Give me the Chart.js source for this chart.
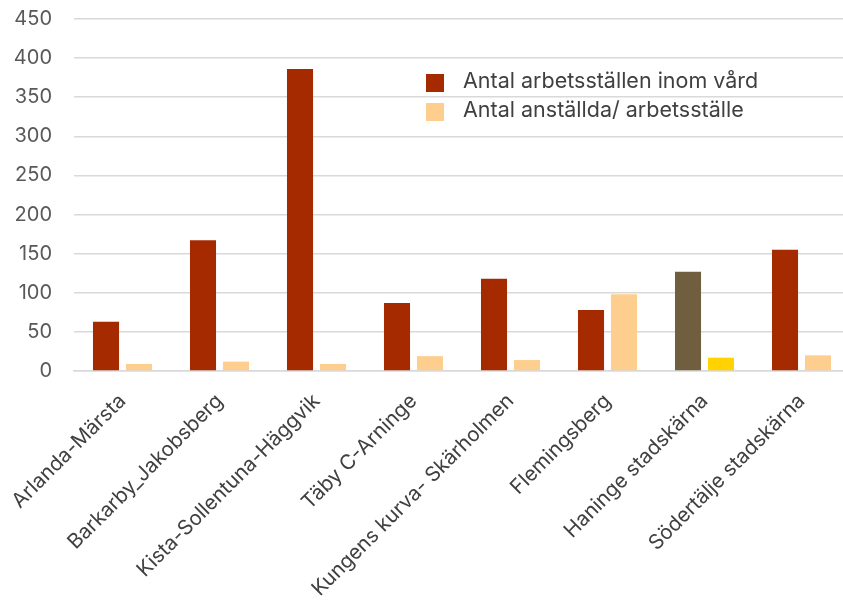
<!DOCTYPE html>
<html>
<head>
<meta charset="utf-8">
<script src="https://cdn.jsdelivr.net/npm/chart.js@4"></script>
<style>
  html, body { margin: 0; padding: 0; background: #fff; overflow: hidden; }
  #wrap { width: 850px; height: 604px; }
</style>
</head>
<body>
<div id="wrap"><canvas id="chart"></canvas></div>
<script>
// Data
const categories = [
  'Arlanda-Märsta',
  'Barkarby_Jakobsberg',
  'Kista-Sollentuna-Häggvik',
  'Täby C-Arninge',
  'Kungens kurva- Skärholmen',
  'Flemingsberg',
  'Haninge stadskärna',
  'Södertälje stadskärna'
];
const arbetsstallen = [63, 167, 386, 87, 118, 78, 127, 155];
const anstallda = [9, 12, 9, 19, 14, 98, 17, 20];
const seriesNames = ['Antal arbetsställen inom vård', 'Antal anställda/ arbetsställe'];
const yTicks = [0, 50, 100, 150, 200, 250, 300, 350, 400, 450];

// Colours (Haninge is highlighted in the original)
const red = '#A52A00';
const peach = '#FDCE8E';
const redColors = categories.map((c, i) => i === 6 ? '#705F3F' : red);
const peachColors = categories.map((c, i) => i === 6 ? '#FFD200' : peach);

const fontFamily = 'Inter, "Open Sans", sans-serif';

// Legend drawn inside the plot area, like the original
const insideLegend = {
  id: 'insideLegend',
  afterDraw(chart) {
    const ctx = chart.ctx;
    const colors = [red, peach];
    ctx.save();
    ctx.font = '21.5px ' + fontFamily;
    ctx.textBaseline = 'middle';
    seriesNames.forEach((name, i) => {
      const y = 83 + i * 29;
      ctx.fillStyle = colors[i];
      ctx.fillRect(426, y - 9, 18, 18);
      ctx.fillStyle = '#404040';
      ctx.fillText(name, 463, y - 1);
    });
    ctx.restore();
  }
};

new Chart(document.getElementById('chart'), {
  type: 'bar',
  data: {
    labels: categories,
    datasets: [
      {
        label: seriesNames[0],
        data: arbetsstallen,
        backgroundColor: redColors,
        categoryPercentage: 0.68,
        barPercentage: 0.79
      },
      {
        label: seriesNames[1],
        data: anstallda,
        backgroundColor: peachColors,
        categoryPercentage: 0.68,
        barPercentage: 0.79
      }
    ]
  },
  options: {
    responsive: true,
    maintainAspectRatio: false,
    animation: false,
    layout: { padding: 0 },
    plugins: {
      legend: { display: false },
      tooltip: { enabled: false }
    },
    scales: {
      x: {
        afterFit: axis => {
          axis.height = 233;
          axis.paddingLeft = 0;
          axis.paddingRight = 0;
        },
        grid: { display: false },
        border: { color: '#D9D9D9', width: 1.5 },
        ticks: {
          color: '#404040',
          font: { family: fontFamily, size: 20.5 },
          minRotation: 45,
          maxRotation: 45,
          padding: 10
        }
      },
      y: {
        min: 0,
        max: 450,
        afterBuildTicks: axis => { axis.ticks = yTicks.map(v => ({ value: v })); },
        afterFit: axis => {
          axis.width = 74;
          axis.paddingTop = 19;
          axis.paddingBottom = 0;
        },
        grid: { color: '#D9D9D9', lineWidth: 1.5, drawTicks: false },
        border: { display: false },
        ticks: {
          color: '#595959',
          font: { family: fontFamily, size: 20 },
          padding: 22
        }
      }
    }
  },
  plugins: [insideLegend]
});
</script>
</body>
</html>
